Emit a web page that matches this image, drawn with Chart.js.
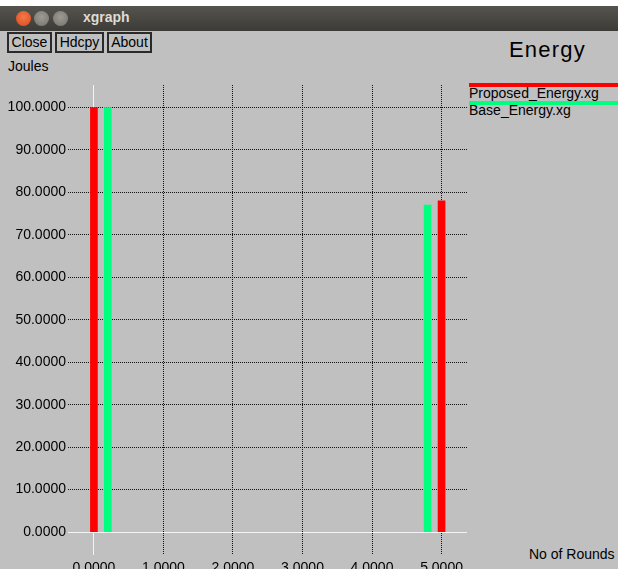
<!DOCTYPE html>
<html>
<head>
<meta charset="utf-8">
<title>xgraph</title>
<script src="https://cdn.jsdelivr.net/npm/chart.js@4"></script>
<style>
  html, body { margin: 0; padding: 0; background: #fff; }
  body { width: 618px; height: 569px; position: relative; overflow: hidden; font-family: "Liberation Sans", Arial, sans-serif; }
  #win { position: absolute; left: 0; top: 31px; width: 618px; height: 538px; background: #c0c0c0; }
  #titlebar { position: absolute; left: 0; top: 6px; width: 618px; height: 25px; background: linear-gradient(#55544e, #3c3b37); }
  .dot { position: absolute; top: 5px; width: 15px; height: 15px; border-radius: 50%; }
  #title { position: absolute; left: 83px; top: 10px; font-weight: bold; font-size: 14px; line-height: 14px; color: #dfdbd2; }
  .btn { position: absolute; top: 32px; height: 17px; border: 2px solid #2a2a2a; font-size: 14px; line-height: 17px; text-align: center; color: #000; }
  .txt { position: absolute; font-size: 14px; line-height: 14px; color: #000; white-space: nowrap; }
  .leg { position: absolute; left: 469px; width: 149px; height: 4px; }
  #c { position: absolute; left: 0; top: 0; }
</style>
</head>
<body>
<div id="win"></div>
<div id="titlebar">
  <div class="dot" style="left:16px;background:radial-gradient(circle at 50% 40%, #f47a4a, #d9471c);"></div>
  <div class="dot" style="left:34px;background:radial-gradient(circle at 50% 40%, #9d9a92, #75736c);"></div>
  <div class="dot" style="left:53px;background:radial-gradient(circle at 50% 40%, #9d9a92, #75736c);"></div>
</div>
<div id="title">xgraph</div>
<div class="btn" style="left:7px;width:41px;">Close</div>
<div class="btn" style="left:55px;width:45px;">Hdcpy</div>
<div class="btn" style="left:107px;width:41px;">About</div>
<div class="txt" style="left:8px;top:59px;">Joules</div>
<div class="txt" style="left:509px;top:39px;font-size:22px;line-height:22px;letter-spacing:1.2px;">Energy</div>
<div class="leg" style="top:83px;background:#ff0000;"></div>
<div class="txt" style="left:469px;top:86px;">Proposed_Energy.xg</div>
<div class="leg" style="top:101px;background:#00ff7f;"></div>
<div class="txt" style="left:469px;top:103px;">Base_Energy.xg</div>
<div class="txt" style="left:529px;top:547px;">No of Rounds</div>
<canvas id="c" width="618" height="569"></canvas>
<script>
const proposedRounds = [0, 5];
const proposedEnergy = [100, 78];
const baseRounds = [0.2, 4.8];
const baseEnergy = [100, 77];
const xTicks = [0, 1, 2, 3, 4, 5];
const yTicks = [0, 10, 20, 30, 40, 50, 60, 70, 80, 90, 100];

function points(xs, ys) {
    return xs.map((x, i) => ({ x: x, y: ys[i] }));
}

const gridColor = (ctx) => (ctx.tick && ctx.tick.value === 0) ? '#f4f4f4' : '#111';
const gridDash = (ctx) => (ctx.tick && ctx.tick.value === 0) ? [] : [1, 1];

const font = { family: '"Liberation Sans", Arial, sans-serif', size: 14 };

const chart = new Chart(document.getElementById('c'), {
    type: 'bar',
    data: {
        datasets: [
            {
                label: 'Proposed_Energy.xg',
                data: points(proposedRounds, proposedEnergy),
                backgroundColor: '#ff0000',
                barThickness: 7,
            },
            {
                label: 'Base_Energy.xg',
                data: points(baseRounds, baseEnergy),
                backgroundColor: '#00ff7f',
                barThickness: 7,
            },
        ],
    },
    options: {
        responsive: false,
        animation: false,
        devicePixelRatio: 1,
        grouped: false,
        layout: { padding: { top: 85, right: 151, left: 0, bottom: 0 } },
        plugins: { legend: { display: false }, tooltip: { enabled: false } },
        scales: {
            x: {
                type: 'linear',
                min: -0.373,
                max: 5.366,
                offset: false,
                afterBuildTicks: (scale) => { scale.ticks = xTicks.map((v) => ({ value: v })); },
                afterFit: (scale) => { scale.height = 14; },
                grid: { color: gridColor, lineWidth: 1, drawTicks: false, offset: false },
                border: { display: false, dash: gridDash },
                ticks: { color: '#000', font, padding: 5, maxRotation: 0, callback: (v) => Number(v).toFixed(4) },
            },
            y: {
                type: 'linear',
                min: -5.4,
                max: 105.3,
                afterBuildTicks: (scale) => { scale.ticks = yTicks.map((v) => ({ value: v })); },
                afterFit: (scale) => { scale.width = 68; },
                grid: { color: gridColor, lineWidth: 1, drawTicks: false },
                border: { display: false, dash: gridDash },
                ticks: { color: '#000', font, padding: 2, callback: (v) => Number(v).toFixed(4) },
            },
        },
    },
});
</script>
</body>
</html>
